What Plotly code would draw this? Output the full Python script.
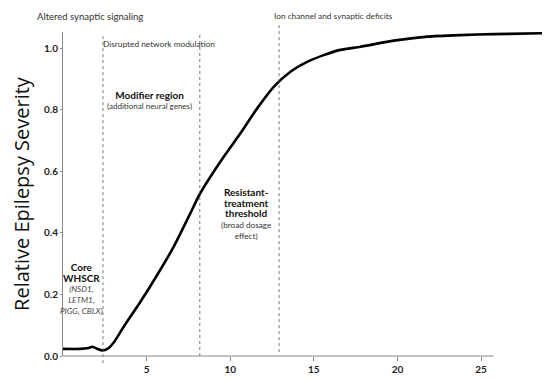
import plotly.graph_objects as go

# Curve data (dosage / deletion size vs relative severity)
x_vals = [0.0, 1.04, 1.52, 1.76, 2.06, 2.36, 2.66, 3.01, 3.63, 4.63, 5.63, 6.62, 7.62, 8.18,
          9.61, 10.61, 11.61, 12.60, 13.60, 14.60, 15.59, 16.59, 17.79, 19.78, 21.78, 23.77,
          25.76, 28.85]
y_vals = [0.023, 0.023, 0.026, 0.030, 0.023, 0.018, 0.023, 0.042, 0.095, 0.176, 0.263, 0.355,
          0.464, 0.526, 0.647, 0.723, 0.804, 0.874, 0.923, 0.955, 0.977, 0.994, 1.004, 1.024,
          1.037, 1.042, 1.045, 1.048]

# Region boundaries (dashed lines)
boundaries = [2.39, 8.18, 12.92]

x_ticks = [5, 10, 15, 20, 25]
y_ticks = [0.0, 0.2, 0.4, 0.6, 0.8, 1.0]
x_axis_end = 25.75

FONT = "Lato"
GRID = "#888888"

fig = go.Figure()
fig.add_trace(go.Scatter(
    x=x_vals, y=y_vals, mode="lines",
    line=dict(color="black", width=2.6, shape="spline", smoothing=0.6),
    hoverinfo="skip", showlegend=False,
))

# dashed region lines (paper y extents)
extents = [(-0.022, 0.997), (0.0, 0.997), (0.012, 1.025)]
for bx, (y0, y1) in zip(boundaries, extents):
    fig.add_shape(type="line", xref="x", yref="paper", x0=bx, x1=bx, y0=y0, y1=y1,
                  line=dict(color="#555555", width=0.8, dash="dot"))

# x axis line (ends before plot edge)
fig.add_shape(type="line", xref="x", yref="paper", x0=0, x1=x_axis_end, y0=0, y1=0,
              line=dict(color=GRID, width=1))


def ann(text, x, y, size=9, color="#222", xref="x", yref="y", xanchor="center", yanchor="middle"):
    fig.add_annotation(text=text, x=x, y=y, xref=xref, yref=yref, showarrow=False,
                       xanchor=xanchor, yanchor=yanchor, align="center",
                       font=dict(family=FONT, size=size, color=color))


def big(t):
    return f"<span style='font-size:10px;color:#111'><b>{t}</b></span>"


ann("Altered synaptic signaling", -0.058, 1.072, size=9.5, color="#333",
    xref="paper", yref="paper", xanchor="left", yanchor="top")
ann("Ion channel and synaptic deficits", 0.431, 1.072, size=8.3, color="#333",
    xref="paper", yref="paper", xanchor="left", yanchor="top")
ann("Disrupted network modulation", 2.30, 1.013, size=8.3, color="#333", xanchor="left")

ann(big("Modifier region") + "<br>(additional neural genes)", 5.17, 0.83, size=8, color="#333")

ann(big("Core") + "<br>" + big("WHSCR") + "<br><i>(NSD1,</i><br><i>LETM1,</i><br><i>PIGG, CBLX)</i>",
    1.10, 0.219, size=8.2, color="#444")

ann(big("Resistant-") + "<br>" + big("treatment") + "<br>" + big("threshold") +
    "<br>(broad dosage<br>effect)", 10.97, 0.462, size=8.2, color="#333")

fig.update_layout(
    width=550, height=380,
    margin=dict(l=55, r=10, t=24, b=32),
    paper_bgcolor="white", plot_bgcolor="white",
    font=dict(family=FONT, color="#222"),
    xaxis=dict(range=[0, 29.0], tickvals=x_ticks, ticktext=[f"<b>{v}</b>" for v in x_ticks],
               showgrid=False, zeroline=False, showline=False,
               ticks="outside", ticklen=4, tickcolor=GRID, tickwidth=1,
               tickfont=dict(family=FONT, size=10, color="#222")),
    yaxis=dict(range=[0, 1.052], tickvals=y_ticks, ticktext=[f"<b>{v:.1f}</b>" for v in y_ticks],
               showgrid=False, zeroline=False, showline=True, linecolor=GRID, linewidth=1,
               ticks="outside", ticklen=2, tickcolor=GRID, automargin=False,
               tickfont=dict(family=FONT, size=10, color="#222"),
               title=dict(text="Relative Epilepsy Severity", standoff=24,
                          font=dict(family="Open Sans", size=20, color="#111"))),
)

fig.write_html("out.html")
